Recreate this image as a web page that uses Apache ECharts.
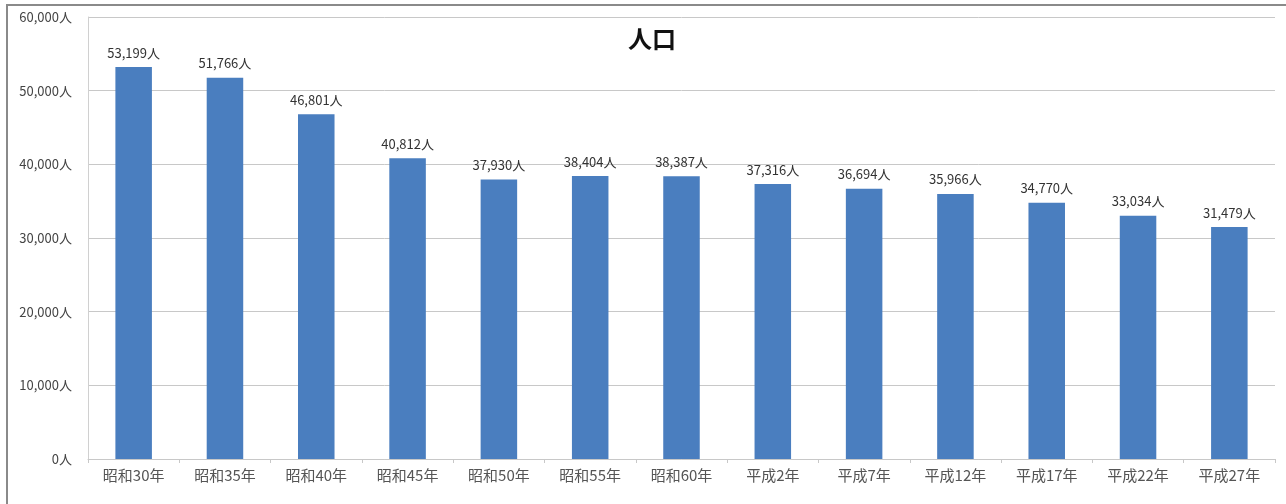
<!DOCTYPE html>
<html><head><meta charset="utf-8">
<script src="https://cdn.jsdelivr.net/npm/echarts@6/dist/echarts.min.js"></script>
<style>html,body{margin:0;padding:0;background:#fff}#c{width:1286px;height:504px}</style>
</head><body><div id="c"></div>
<script>
const categories = ['昭和30年','昭和35年','昭和40年','昭和45年','昭和50年','昭和55年','昭和60年','平成2年','平成7年','平成12年','平成17年','平成22年','平成27年'];
const population = [53199,51766,46801,40812,37930,38404,38387,37316,36694,35966,34770,33034,31479];
const yTicks = {min:0, max:60000, interval:10000};
const titleText = '人口';
const unit = '人';

const chart = echarts.init(document.getElementById('c'));
const font = "'Noto Sans CJK JP','Noto Sans',sans-serif";
chart.setOption({
  animation:false,
  graphic:[{type:'rect',shape:{x:7,y:5,width:1300,height:520},style:{fill:'none',stroke:'#8a8a8a',lineWidth:2},silent:true}],
  title:{text:titleText,left:647,top:22,textAlign:'center',textStyle:{fontFamily:font,fontSize:24,fontWeight:'bold',color:'#111'}},
  grid:{left:88,right:11,top:17,bottom:45,containLabel:false},
  xAxis:{type:'category',data:categories,
    axisLine:{lineStyle:{color:'#c8c8c8',width:1}},
    axisTick:{show:true,length:4,lineStyle:{color:'#c8c8c8'}},
    axisLabel:{fontFamily:font,fontSize:15,color:'#555',margin:9}},
  yAxis:{type:'value',min:yTicks.min,max:yTicks.max,interval:yTicks.interval,
    axisLine:{show:true,lineStyle:{color:'#d0d0d0'}},
    axisTick:{show:false},
    splitLine:{lineStyle:{color:'#c8c8c8',width:1}},
    axisLabel:{fontFamily:font,fontSize:13,color:'#444',margin:16,
      formatter:v=>v.toLocaleString('en-US')+unit}},
  series:[{type:'bar',data:population,barWidth:'40%',
    itemStyle:{color:'#4a7ebf'},
    label:{show:true,position:'top',distance:8,fontFamily:font,fontSize:13,color:'#333',
      formatter:p=>p.value.toLocaleString('en-US')+unit}}]
});
</script></body></html>
